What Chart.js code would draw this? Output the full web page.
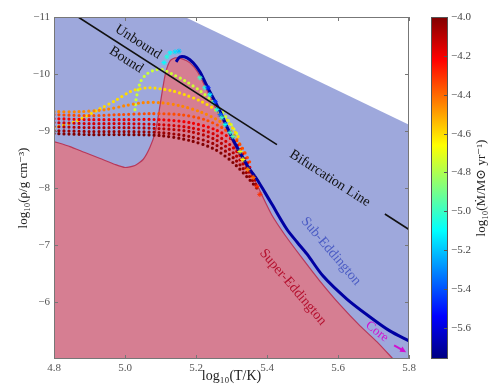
<!DOCTYPE html>
<html>
<head>
<meta charset="utf-8">
<script src="https://cdn.jsdelivr.net/npm/chart.js@4.4.1/dist/chart.umd.min.js"></script>
<style>
  html, body { margin: 0; padding: 0; background: #fff; }
  canvas { display: block; }
</style>
</head>
<body>
<canvas id="phaseChart" width="495" height="387"></canvas>
<script>
// axes
const xTicks = [4.8, 5.0, 5.2, 5.4, 5.6, 5.8];
const yTicks = [-11, -10, -9, -8, -7, -6];
const cbTicks = [-4.0, -4.2, -4.4, -4.6, -4.8, -5.0, -5.2, -5.4, -5.6];
const cbRange = [-5.76, -4.0];

// sub-Eddington region (upper edge), filled down to the bottom
const subEddX = [4.8, 5.169, 5.8];
const subEddY = [-11, -11, -9.11];

// super-Eddington region (upper edge)
const superEddX = [4.800, 4.845, 4.887, 4.930, 4.972, 5.000, 5.028, 5.051, 5.070, 5.085, 5.093, 5.099,
  5.107, 5.115, 5.127, 5.141, 5.161, 5.183, 5.206, 5.234, 5.262, 5.285, 5.318, 5.344, 5.369, 5.386,
  5.414, 5.451, 5.499, 5.549, 5.606, 5.662, 5.710, 5.755];
const superEddY = [-8.815, -8.727, -8.622, -8.517, -8.413, -8.360, -8.395, -8.500, -8.710, -8.972, -9.234, -9.462,
  -9.776, -10.038, -10.231, -10.283, -10.266, -10.196, -10.021, -9.671, -9.322, -9.059, -8.622, -8.360, -8.098, -7.871,
  -7.521, -7.171, -6.769, -6.367, -5.948, -5.580, -5.301, -5.0];

// bifurcation line (two pieces, text sits in the gap)
const bifAX = [4.868, 5.428];
const bifAY = [-11, -8.76];
const bifBX = [5.732, 5.8];
const bifBY = [-7.544, -7.272];

// core solution (thick line)
const coreMdot = -5.7;
const coreX = [5.144, 5.155, 5.175, 5.192, 5.211, 5.225, 5.239, 5.254, 5.268, 5.287, 5.304, 5.324,
  5.346, 5.372, 5.394, 5.414, 5.456, 5.485, 5.513, 5.558, 5.625, 5.690, 5.746, 5.800];
const coreY = [-10.213, -10.301, -10.283, -10.196, -10.038, -9.864, -9.689, -9.514, -9.339, -9.077, -8.850, -8.622,
  -8.378, -8.150, -7.923, -7.713, -7.276, -7.049, -6.839, -6.455, -6.052, -5.738, -5.493, -5.318];

// dotted tracks, one per mass-loss rate
const trackMdot = [-4.75, -4.6, -4.45, -4.35, -4.2, -4.15, -4.1, -4.05, -4.0];
const trackX = [
  [5.028, 5.031, 5.037, 5.045, 5.062, 5.085, 5.107, 5.132, 5.169, 5.211, 5.254, 5.290, 5.318],
  [4.800, 4.859, 4.930, 4.972, 5.014, 5.042, 5.070, 5.099, 5.132, 5.169, 5.211, 5.254, 5.290, 5.324],
  [4.800, 4.873, 4.944, 5.000, 5.051, 5.099, 5.155, 5.211, 5.268, 5.310, 5.338],
  [4.800, 4.901, 4.986, 5.070, 5.155, 5.225, 5.282, 5.324, 5.352],
  [4.800, 4.901, 5.000, 5.099, 5.183, 5.254, 5.310, 5.352],
  [4.800, 4.901, 5.000, 5.099, 5.183, 5.254, 5.310, 5.361],
  [4.800, 4.901, 5.000, 5.099, 5.183, 5.254, 5.310, 5.369],
  [4.800, 4.901, 5.000, 5.099, 5.183, 5.254, 5.310, 5.375],
  [4.800, 4.901, 5.000, 5.099, 5.183, 5.254, 5.310, 5.380],
];
const trackY = [
  [-9.374, -9.549, -9.724, -9.881, -10.003, -10.073, -10.073, -10.003, -9.881, -9.706, -9.479, -9.199, -8.920],
  [-9.059, -9.164, -9.392, -9.531, -9.689, -9.741, -9.759, -9.741, -9.706, -9.636, -9.531, -9.374, -9.164, -8.850],
  [-9.339, -9.339, -9.374, -9.444, -9.497, -9.497, -9.444, -9.339, -9.164, -8.902, -8.587],
  [-9.287, -9.269, -9.287, -9.304, -9.287, -9.199, -9.024, -8.762, -8.448],
  [-9.217, -9.199, -9.199, -9.199, -9.147, -9.024, -8.797, -8.360],
  [-9.147, -9.129, -9.129, -9.112, -9.059, -8.937, -8.675, -8.238],
  [-9.077, -9.059, -9.059, -9.042, -8.990, -8.850, -8.587, -8.115],
  [-9.007, -8.990, -8.990, -8.972, -8.902, -8.762, -8.500, -8.010],
  [-8.955, -8.937, -8.937, -8.920, -8.832, -8.675, -8.413, -7.941],
];

// star markers along the steep edge
const starX = [5.110, 5.118, 5.127, 5.141, 5.152, 5.211, 5.225, 5.234, 5.239, 5.248, 5.254, 5.259, 5.268,
  5.273, 5.282, 5.296, 5.304, 5.324, 5.332, 5.346, 5.361, 5.372, 5.380];
const starY = [-10.20, -10.301, -10.371, -10.388, -10.40, -9.934, -9.759, -9.759, -9.636, -9.497, -9.514, -9.374, -9.287,
  -9.234, -9.112, -8.972, -8.902, -8.640, -8.500, -8.325, -8.185, -8.028, -7.888];
const starMdot = [-5.1, -5.05, -5.1, -5.15, -5.2, -5.0, -5.05, -5.5, -5.1, -5.0, -5.45, -5.05, -5.35,
  -5.0, -5.1, -5.0, -4.95, -4.7, -4.65, -4.45, -4.4, -4.3, -4.3];

// text labels (data coords)
const notes = [
  { text: "Unbound", x: 5.037, y: -10.563, angle: 32.8, color: "#111", size: 14 },
  { text: "Bound", x: 5.003, y: -10.248, angle: 32.8, color: "#111", size: 14 },
  { text: "Bifurcation Line", x: 5.577, y: -8.168, angle: 32.8, color: "#111", size: 14 },
  { text: "Sub-Eddington", x: 5.580, y: -6.892, angle: 49.6, color: "#4b5cc4", size: 14 },
  { text: "Super-Eddington", x: 5.473, y: -6.262, angle: 49.5, color: "#b4102e", size: 14 },
  { text: "Core", x: 5.71, y: -5.48, angle: 38, color: "#d010d0", size: 13 },
];
const coreArrow = { from: [5.758, -5.24], to: [5.792, -5.12] };

function jet(v) {
  const t = Math.min(1, Math.max(0, (v - cbRange[0]) / (cbRange[1] - cbRange[0])));
  const c = (k) => Math.round(255 * Math.min(1, Math.max(0, 1.5 - Math.abs(4 * t - k))));
  return `rgb(${c(3)},${c(2)},${c(1)})`;
}

function pts(xs, ys) {
  return xs.map((x, i) => ({ x: x, y: ys[i] }));
}

const serif = "'Liberation Serif', 'DejaVu Serif', serif";
Chart.defaults.font.family = serif;

const trackSets = trackMdot.map((m, i) => ({
  data: pts(trackX[i], trackY[i]),
  showLine: true,
  borderColor: jet(m),
  borderWidth: 3.2,
  borderDash: [0, 5],
  borderCapStyle: "round",
  pointRadius: 0,
  tension: 0.3,
  order: 3 + (trackMdot.length - i),
}));

const annotationPlugin = {
  id: "notes",
  afterDatasetsDraw(chart) {
    const { ctx, scales } = chart;
    ctx.save();
    notes.forEach((n) => {
      ctx.save();
      ctx.translate(scales.x.getPixelForValue(n.x), scales.y.getPixelForValue(n.y));
      ctx.rotate((n.angle * Math.PI) / 180);
      ctx.font = `${n.size}px ${serif}`;
      ctx.fillStyle = n.color;
      ctx.textAlign = "center";
      ctx.textBaseline = "middle";
      ctx.fillText(n.text, 0, 0);
      ctx.restore();
    });
    // arrow next to "Core"
    const x0 = scales.x.getPixelForValue(coreArrow.from[0]);
    const y0 = scales.y.getPixelForValue(coreArrow.from[1]);
    const x1 = scales.x.getPixelForValue(coreArrow.to[0]);
    const y1 = scales.y.getPixelForValue(coreArrow.to[1]);
    const a = Math.atan2(y1 - y0, x1 - x0);
    ctx.strokeStyle = "#d010d0";
    ctx.fillStyle = "#d010d0";
    ctx.lineWidth = 2;
    ctx.beginPath();
    ctx.moveTo(x0, y0);
    ctx.lineTo(x1 - 3 * Math.cos(a), y1 - 3 * Math.sin(a));
    ctx.stroke();
    ctx.beginPath();
    ctx.moveTo(x1, y1);
    ctx.lineTo(x1 - 6 * Math.cos(a) + 3 * Math.sin(a), y1 - 6 * Math.sin(a) - 3 * Math.cos(a));
    ctx.lineTo(x1 - 6 * Math.cos(a) - 3 * Math.sin(a), y1 - 6 * Math.sin(a) + 3 * Math.cos(a));
    ctx.closePath();
    ctx.fill();
    ctx.restore();
  },
};

const framePlugin = {
  id: "frame",
  afterDraw(chart) {
    const { ctx, chartArea: ca, scales } = chart;
    ctx.save();
    ctx.strokeStyle = "#777";
    ctx.lineWidth = 1;
    ctx.strokeRect(ca.left + 0.5, ca.top + 0.5, ca.right - ca.left - 1, ca.bottom - ca.top - 1);
    ctx.beginPath();
    xTicks.forEach((v) => {
      const px = Math.round(scales.x.getPixelForValue(v)) + 0.5;
      ctx.moveTo(px, ca.top); ctx.lineTo(px, ca.top + 4);
      ctx.moveTo(px, ca.bottom); ctx.lineTo(px, ca.bottom - 4);
    });
    yTicks.forEach((v) => {
      const py = Math.round(scales.y.getPixelForValue(v)) + 0.5;
      ctx.moveTo(ca.left, py); ctx.lineTo(ca.left + 4, py);
      ctx.moveTo(ca.right, py); ctx.lineTo(ca.right - 4, py);
    });
    ctx.stroke();

    // colour bar
    const left = 431, width = 17, top = ca.top, bottom = ca.bottom;
    const grad = ctx.createLinearGradient(0, bottom, 0, top);
    for (let i = 0; i <= 40; i++) {
      const f = i / 40;
      grad.addColorStop(f, jet(cbRange[0] + f * (cbRange[1] - cbRange[0])));
    }
    ctx.fillStyle = grad;
    ctx.fillRect(left, top, width, bottom - top);
    ctx.strokeStyle = "#555";
    ctx.strokeRect(left + 0.5, top + 0.5, width - 1, bottom - top - 1);
    ctx.font = `11px ${serif}`;
    ctx.fillStyle = "#444";
    ctx.textAlign = "left";
    ctx.textBaseline = "middle";
    ctx.beginPath();
    cbTicks.forEach((v) => {
      const py = Math.round(bottom - ((v - cbRange[0]) / (cbRange[1] - cbRange[0])) * (bottom - top)) + 0.5;
      ctx.moveTo(left + width, py); ctx.lineTo(left + width - 4, py);
      ctx.fillText("\u2212" + Math.abs(v).toFixed(1), left + width + 3, py);
    });
    ctx.stroke();
    ctx.save();
    ctx.translate(482, (top + bottom) / 2);
    ctx.rotate(-Math.PI / 2);
    ctx.font = `13px ${serif}`;
    ctx.fillStyle = "#222";
    ctx.textAlign = "center";
    ctx.fillText("log\u2081\u2080(\u1E40/M\u2299 yr\u207B\u00B9)", 0, 0);
    ctx.restore();
    ctx.restore();
  },
};

const ctx = document.getElementById("phaseChart").getContext("2d");

const chart = new Chart(ctx, {
  type: "scatter",
  data: {
    datasets: [
      { data: pts(bifAX, bifAY), showLine: true, borderColor: "#111", borderWidth: 1.6, pointRadius: 0, order: 0 },
      { data: pts(bifBX, bifBY), showLine: true, borderColor: "#111", borderWidth: 1.6, pointRadius: 0, order: 0 },
      {
        data: pts(starX, starY),
        pointStyle: "star",
        pointRadius: 2.6,
        pointBorderWidth: 1,
        pointBorderColor: starMdot.map(jet),
        pointBackgroundColor: starMdot.map(jet),
        order: 1,
      },
      {
        data: pts(coreX, coreY),
        showLine: true,
        borderColor: jet(coreMdot),
        borderWidth: 3,
        pointRadius: 0,
        tension: 0.3,
        order: 2,
      },
      ...trackSets,
      {
        data: pts(superEddX, superEddY),
        showLine: true,
        borderColor: "#b8385a",
        borderWidth: 1.2,
        backgroundColor: "#d67e92",
        fill: { value: -5 },
        pointRadius: 0,
        tension: 0.2,
        order: 20,
      },
      {
        data: pts(subEddX, subEddY),
        showLine: true,
        borderWidth: 0,
        borderColor: "rgba(0,0,0,0)",
        backgroundColor: "#9ea8dc",
        fill: { value: -5 },
        pointRadius: 0,
        order: 21,
      },
    ],
  },
  options: {
    responsive: false,
    animation: false,
    devicePixelRatio: 1,
    layout: { padding: { left: 0, right: 86, top: 17, bottom: 0 } },
    plugins: {
      legend: { display: false },
      tooltip: { enabled: false },
    },
    scales: {
      x: {
        type: "linear",
        min: 4.8,
        max: 5.8,
        grid: { display: false, drawTicks: false },
        border: { display: false },
        afterBuildTicks(scale) {
          scale.ticks = xTicks.map((v) => ({ value: v }));
        },
        afterFit(scale) {
          scale.height = 28;
        },
        ticks: {
          padding: 3,
          color: "#555",
          font: { size: 11 },
          callback: (v) => Number(v).toFixed(1),
        },
        title: {
          display: true,
          text: "log\u2081\u2080(T/K)",
          color: "#222",
          font: { size: 14 },
          padding: { top: 0, bottom: 2 },
        },
      },
      y: {
        type: "linear",
        min: -11,
        max: -5,
        reverse: true,
        grid: { display: false, drawTicks: false },
        border: { display: false },
        afterBuildTicks(scale) {
          scale.ticks = yTicks.map((v) => ({ value: v }));
        },
        afterFit(scale) {
          scale.width = 54;
        },
        ticks: {
          padding: 4,
          color: "#555",
          font: { size: 11 },
          callback: (v) => "\u2212" + Math.abs(v),
        },
        title: {
          display: true,
          text: "log\u2081\u2080(\u03C1/g cm\u207B\u00B3)",
          color: "#222",
          font: { size: 13 },
          padding: { top: 16, bottom: 0 },
        },
      },
    },
  },
  plugins: [annotationPlugin, framePlugin],
});
</script>
</body>
</html>
